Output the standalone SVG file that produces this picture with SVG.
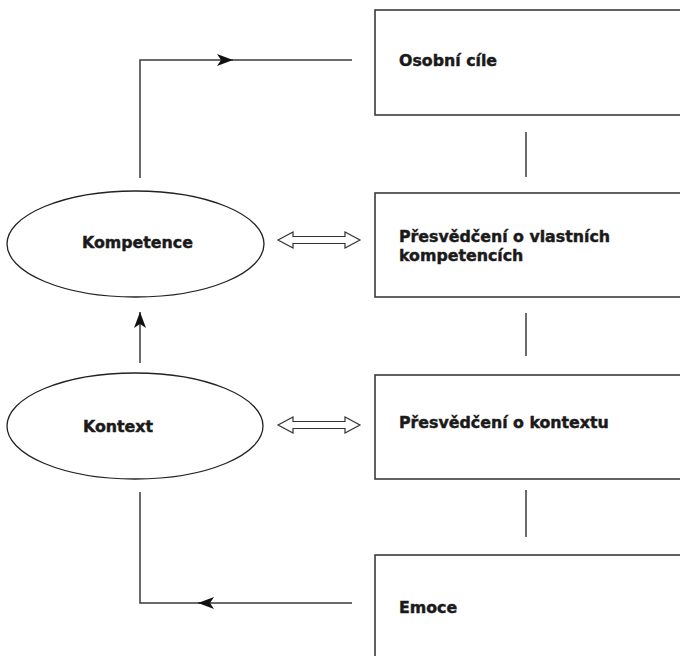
<svg xmlns="http://www.w3.org/2000/svg" width="680" height="656" viewBox="0 0 680 656">
<style>
.box{fill:#fff;stroke:#3a3a3a;stroke-width:1.6}
.ell{fill:#fff;stroke:#222;stroke-width:1.3}
.t{font-family:"DejaVu Sans",sans-serif;font-weight:bold;font-size:15.8px;fill:#1a1a1a;stroke:#1a1a1a;stroke-width:0.45}
.ln{fill:none;stroke:#3a3a3a;stroke-width:1.5}
.dbl{fill:#fff;stroke:#333;stroke-width:1.2}
</style>
<defs>
<marker id="ah" viewBox="0 0 16 12" refX="16" refY="6" markerWidth="16" markerHeight="12" markerUnits="userSpaceOnUse" orient="auto">
<path d="M0,0 L16,6 L0,12 L4,6 Z" fill="#111"/>
</marker>
</defs>
<rect width="680" height="656" fill="#fff"/>
<g id="connectors">
<path class="ln" d="M140,178 V60 H232"/>
<path class="ln" d="M232,60 H352"/>
<line class="ln" x1="232" y1="60" x2="233" y2="60" marker-end="url(#ah)"/>
<line class="ln" x1="140" y1="363" x2="140" y2="312" marker-end="url(#ah)"/>
<path class="ln" d="M140,492 V603 H352"/>
<line class="ln" x1="210" y1="603" x2="198" y2="603" marker-end="url(#ah)"/>
<line class="ln" x1="526" y1="132" x2="526" y2="177"/>
<line class="ln" x1="526" y1="313" x2="526" y2="356"/>
<line class="ln" x1="526" y1="490" x2="526" y2="537"/>
<path class="dbl" d="M278,240 L293,232 V236.5 H345 V232 L360,240 L345,248 V243.5 H293 V248 Z"/>
<path class="dbl" d="M278,425 L293,417 V421.5 H345 V417 L360,425 L345,433 V428.5 H293 V433 Z"/>
</g>
<g id="osobni-cile">
<rect class="box" x="375" y="10" width="320" height="105"/>
<text class="t" x="399" y="66">Osobní cíle</text>
</g>
<g id="presvedceni-kompetence">
<rect class="box" x="375" y="193" width="320" height="104"/>
<text class="t" x="399" y="242">Přesvědčení o vlastních<tspan x="399" y="260.5">kompetencích</tspan></text>
</g>
<g id="presvedceni-kontext">
<rect class="box" x="375" y="375" width="320" height="104"/>
<text class="t" x="399" y="428">Přesvědčení o kontextu</text>
</g>
<g id="emoce">
<rect class="box" x="375" y="555" width="320" height="120"/>
<text class="t" x="399" y="613">Emoce</text>
</g>
<g id="kompetence">
<ellipse class="ell" cx="135.5" cy="244" rx="128.5" ry="53"/>
<text class="t" x="82" y="248">Kompetence</text>
</g>
<g id="kontext">
<ellipse class="ell" cx="135" cy="426" rx="128" ry="53"/>
<text class="t" x="83" y="432">Kontext</text>
</g>
</svg>
